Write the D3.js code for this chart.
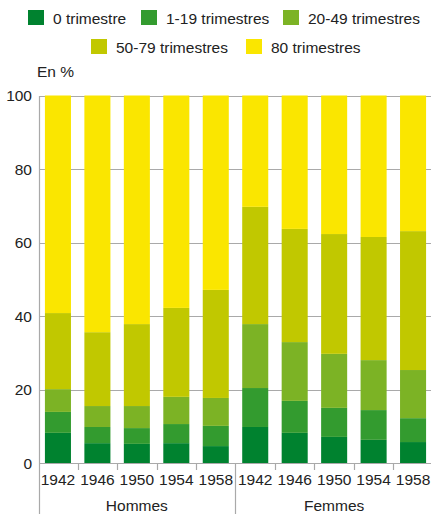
<!DOCTYPE html>
<html>
<head>
<meta charset="utf-8">
<script src="https://cdn.jsdelivr.net/npm/d3@7"></script>
<style>
  html, body { margin: 0; padding: 0; background: #fff; }
  svg { display: block; font-family: "Liberation Sans", Arial, sans-serif; }
</style>
</head>
<body>
<svg id="chart" width="431" height="514"></svg>
<script>
// ---- Data ----
const years = ["1942", "1946", "1950", "1954", "1958"];
const groups = ["Hommes", "Femmes"];
const seriesNames = ["0 trimestre", "1-19 trimestres", "20-49 trimestres", "50-79 trimestres", "80 trimestres"];
const seriesColors = ["#00822f", "#339b2f", "#7cb325", "#c1c800", "#fae600"];
const yTicks = [0, 20, 40, 60, 80, 100];
const yLabel = "En %";

// shares (%) by series, for each year
const hommes0 = [8.2, 5.4, 5.2, 5.4, 4.6];
const hommes1_19 = [5.7, 4.4, 4.3, 5.2, 5.5];
const hommes20_49 = [6.2, 5.7, 6.0, 7.4, 7.6];
const hommes50_79 = [20.7, 20.1, 22.3, 24.2, 29.4];
const hommes80 = [59.2, 64.4, 62.2, 57.8, 52.9];

const femmes0 = [9.8, 8.2, 7.1, 6.3, 5.7];
const femmes1_19 = [10.6, 8.7, 7.9, 8.1, 6.5];
const femmes20_49 = [17.4, 16.0, 14.7, 13.6, 13.1];
const femmes50_79 = [31.9, 30.8, 32.6, 33.5, 37.8];
const femmes80 = [30.3, 36.3, 37.7, 38.5, 36.9];

const hommesSeries = [hommes0, hommes1_19, hommes20_49, hommes50_79, hommes80];
const femmesSeries = [femmes0, femmes1_19, femmes20_49, femmes50_79, femmes80];

(function () {
// ---- Build table ----
const rows = [];
groups.forEach((g, gi) => {
  const src = gi === 0 ? hommesSeries : femmesSeries;
  years.forEach((yr, yi) => {
    const r = { key: g + "-" + yr, group: g, year: yr };
    seriesNames.forEach((s, si) => { r[s] = src[si][yi]; });
    rows.push(r);
  });
});

const stacked = d3.stack().keys(seriesNames)(rows);

// ---- Layout ----
const svg = d3.select("#chart");
const mLeft = 39, mRight = 432, mTop = 95.5, mBottom = 463;
const textColor = "#222";
const gridColor = "#a9a9a9";
const fontSize = "15.5px";

const x = d3.scaleBand()
  .domain(rows.map(d => d.key))
  .range([mLeft, mRight])
  .paddingInner(0.34)
  .paddingOuter(0.15);

const y = d3.scaleLinear().domain([0, 100]).range([mBottom, mTop]);

// gridlines
svg.append("g")
  .selectAll("line")
  .data(yTicks)
  .join("line")
  .attr("x1", mLeft).attr("x2", 431)
  .attr("y1", d => Math.round(y(d)) + 0.5)
  .attr("y2", d => Math.round(y(d)) + 0.5)
  .attr("stroke", gridColor)
  .attr("stroke-width", 1.2);

// left axis line
svg.append("line")
  .attr("x1", mLeft + 0.5).attr("x2", mLeft + 0.5)
  .attr("y1", Math.round(y(100))).attr("y2", 514)
  .attr("stroke", gridColor).attr("stroke-width", 1.2);

// bars
svg.append("g")
  .selectAll("g")
  .data(stacked)
  .join("g")
  .attr("fill", (d, i) => seriesColors[i])
  .selectAll("rect")
  .data(d => d)
  .join("rect")
  .attr("x", d => x(d.data.key))
  .attr("width", x.bandwidth())
  .attr("y", d => y(d[1]))
  .attr("height", d => y(d[0]) - y(d[1]));

// y tick labels
svg.append("g")
  .selectAll("text")
  .data(yTicks)
  .join("text")
  .attr("x", 32)
  .attr("y", d => y(d))
  .attr("dy", "0.36em")
  .attr("text-anchor", "end")
  .attr("fill", textColor)
  .style("font-size", fontSize)
  .text(d => d);

// x category separators
const step = x.step();
const boundaries = d3.range(1, rows.length).map(i => x(rows[i].key) - x.paddingInner() * step / 2);
svg.append("g")
  .selectAll("line")
  .data(boundaries)
  .join("line")
  .attr("x1", d => Math.round(d) + 0.5).attr("x2", d => Math.round(d) + 0.5)
  .attr("y1", mBottom)
  .attr("y2", (d, i) => (i === years.length - 1) ? 514 : mBottom + 7)
  .attr("stroke", gridColor).attr("stroke-width", 1.2);

// year labels
svg.append("g")
  .selectAll("text")
  .data(rows)
  .join("text")
  .attr("x", d => x(d.key) + x.bandwidth() / 2)
  .attr("y", 485)
  .attr("text-anchor", "middle")
  .attr("fill", textColor)
  .style("font-size", fontSize)
  .text(d => d.year);

// group labels
svg.append("g")
  .selectAll("text")
  .data(groups)
  .join("text")
  .attr("x", g => {
    const ks = rows.filter(r => r.group === g).map(r => r.key);
    return (x(ks[0]) + x(ks[ks.length - 1]) + x.bandwidth()) / 2;
  })
  .attr("y", 511)
  .attr("text-anchor", "middle")
  .attr("fill", textColor)
  .style("font-size", fontSize)
  .text(g => g);

// unit label
svg.append("text")
  .attr("x", 37).attr("y", 77)
  .attr("fill", textColor)
  .style("font-size", fontSize)
  .text(yLabel);

// legend
const legendPos = [
  { sx: 28, ty: 24 },
  { sx: 141, ty: 24 },
  { sx: 283, ty: 24 },
  { sx: 91, ty: 53 },
  { sx: 246, ty: 53 }
];
const lg = svg.append("g")
  .selectAll("g")
  .data(seriesNames)
  .join("g");
lg.append("rect")
  .attr("x", (d, i) => legendPos[i].sx)
  .attr("y", (d, i) => legendPos[i].ty - 14)
  .attr("width", 16).attr("height", 15)
  .attr("fill", (d, i) => seriesColors[i]);
lg.append("text")
  .attr("x", (d, i) => legendPos[i].sx + 25)
  .attr("y", (d, i) => legendPos[i].ty)
  .attr("fill", textColor)
  .style("font-size", fontSize)
  .text(d => d);
})();
</script>
</body>
</html>
